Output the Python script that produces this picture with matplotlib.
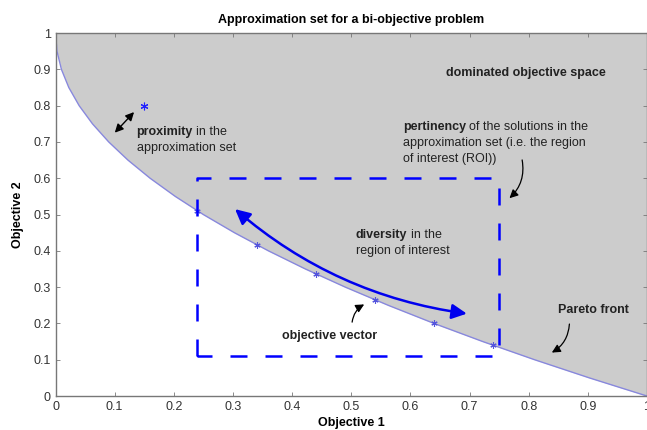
import matplotlib
matplotlib.use("Agg")
import matplotlib.pyplot as plt
from matplotlib.patches import FancyArrowPatch

plt.rcParams['font.family'] = ['Liberation Sans', 'DejaVu Sans']

# Pareto front
front_x = [0, 0.0025, 0.01, 0.0225, 0.04, 0.0625, 0.09, 0.1225, 0.16, 0.2025,
           0.25, 0.3025, 0.36, 0.4225, 0.49, 0.5625, 0.64, 0.7225, 0.81, 0.9025, 1.0]
front_y = [1.0, 0.95, 0.9, 0.85, 0.8, 0.75, 0.7, 0.65, 0.6, 0.55,
           0.5, 0.45, 0.4, 0.35, 0.3, 0.25, 0.2, 0.15, 0.1, 0.05, 0.0]

# approximation set (objective vectors)
pts_x = [0.24, 0.34, 0.44, 0.54, 0.64, 0.74]
pts_y = [0.51, 0.417, 0.337, 0.265, 0.20, 0.14]
outlier_x = [0.15]
outlier_y = [0.80]

# region of interest rectangle
roi_x = [0.24, 0.75]
roi_y = [0.11, 0.60]

xticks = [0, 0.1, 0.2, 0.3, 0.4, 0.5, 0.6, 0.7, 0.8, 0.9, 1]
yticks = [0, 0.1, 0.2, 0.3, 0.4, 0.5, 0.6, 0.7, 0.8, 0.9, 1]

fig = plt.figure(figsize=(6.47, 4.30), dpi=100)
ax = fig.add_axes([0.0858, 0.079, 0.9142, 0.844])

ax.fill_between(front_x, front_y, 1.0, color='#cccccc', zorder=1, linewidth=0)
ax.plot(front_x, front_y, color='#8888dd', lw=1.0, zorder=2)
ax.plot(pts_x, pts_y, linestyle='none', marker=(6, 2, 0), color='#5555dd',
        markersize=4.5, markeredgewidth=0.8, zorder=3)
ax.plot(outlier_x, outlier_y, linestyle='none', marker=(6, 2, 0), color='#2222ff',
        markersize=5.5, markeredgewidth=0.8, zorder=3)

rx = [roi_x[0], roi_x[0], roi_x[1], roi_x[1], roi_x[0]]
ry = [roi_y[0], roi_y[1], roi_y[1], roi_y[0], roi_y[0]]
ax.plot(rx, ry, color='#0000ff', lw=1.8, dashes=(6.8, 7.2), zorder=4)

# diversity arrow
ax.add_patch(FancyArrowPatch((0.70, 0.226), (0.30, 0.52),
                             connectionstyle='arc3,rad=-0.15',
                             arrowstyle='<|-|>,head_length=9,head_width=4.5',
                             color='#0000ee', lw=1.8, zorder=5))
# proximity arrow
ax.add_patch(FancyArrowPatch((0.097, 0.72), (0.136, 0.788),
                             arrowstyle='<|-|>,head_length=5,head_width=2.5',
                             color='black', lw=1.0, zorder=5))
# pertinency arrow
ax.add_patch(FancyArrowPatch((0.788, 0.658), (0.764, 0.54),
                             connectionstyle='arc3,rad=-0.3',
                             arrowstyle='-|>,head_length=5,head_width=2.5',
                             color='black', lw=0.9, zorder=5))
# objective vector arrow
ax.add_patch(FancyArrowPatch((0.501, 0.196), (0.526, 0.256),
                             connectionstyle='arc3,rad=-0.3',
                             arrowstyle='-|>,head_length=5,head_width=2.5',
                             color='black', lw=0.9, zorder=5))
# Pareto front arrow
ax.add_patch(FancyArrowPatch((0.869, 0.206), (0.835, 0.116),
                             connectionstyle='arc3,rad=-0.3',
                             arrowstyle='-|>,head_length=5,head_width=2.5',
                             color='black', lw=0.9, zorder=5))

fs = 9
tc = '#222222'


def two_part(x, y, bold, rest, lines):
    tb = ax.text(x, y, bold, fontsize=fs, fontweight='bold', color=tc,
                 va='center', zorder=6)
    fig.canvas.draw()
    r = fig.canvas.get_renderer()
    bb = tb.get_window_extent(r)
    inv = ax.transData.inverted()
    x2 = inv.transform((bb.x1 + 3.5, 0))[0]
    ax.text(x2, y, rest, fontsize=fs, color=tc, va='center', zorder=6)
    for i, ln in enumerate(lines):
        ax.text(x, y - 0.044 * (i + 1), ln, fontsize=fs, color=tc,
                va='center', zorder=6)


ax.set_xlim(0, 1)
ax.set_ylim(0, 1)

ax.text(0.66, 0.89, 'dominated objective space', fontsize=fs, fontweight='bold',
        color=tc, va='center', zorder=6)
two_part(0.137, 0.727, 'proximity', 'in the', ['approximation set'])
two_part(0.587, 0.741, 'pertinency', 'of the solutions in the',
         ['approximation set (i.e. the region', 'of interest (ROI))'])
two_part(0.508, 0.444, 'diversity', 'in the', ['region of interest'])
ax.text(0.383, 0.165, 'objective vector', fontsize=fs, fontweight='bold',
        color=tc, va='center', zorder=6)
ax.text(0.849, 0.237, 'Pareto front', fontsize=fs, fontweight='bold',
        color=tc, va='center', zorder=6)

ax.set_xticks(xticks)
ax.set_yticks(yticks)
ax.set_xticklabels([f'{v:g}' for v in xticks])
ax.set_yticklabels([f'{v:g}' for v in yticks])
ax.tick_params(direction='in', top=True, right=True, length=3, width=0.6,
               colors='#777777', labelcolor='#333333', labelsize=9)
for s in ax.spines.values():
    s.set_color('#777777')
    s.set_linewidth(1.0)

ax.set_title('Approximation set for a bi-objective problem', fontsize=9,
             fontweight='bold', pad=7)
ax.set_xlabel('Objective 1', fontsize=9, fontweight='bold', labelpad=3)
ax.set_ylabel('Objective 2', fontsize=9, fontweight='bold', labelpad=7)

fig.savefig('out.png', dpi=100)
